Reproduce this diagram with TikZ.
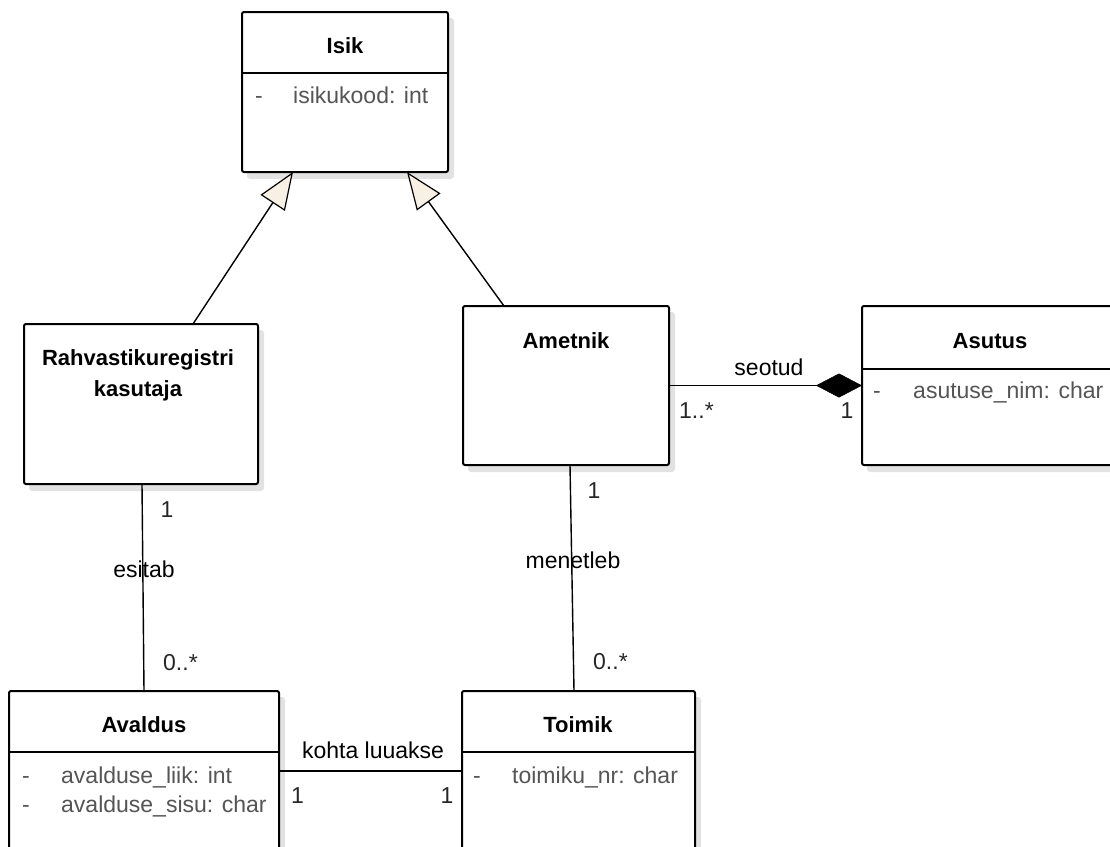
\documentclass[tikz,border=0pt]{standalone}
\usepackage{fontspec}
\setmainfont{Liberation Sans}
\usetikzlibrary{arrows.meta}
\definecolor{attrgray}{RGB}{85,85,85}
\definecolor{gencream}{RGB}{248,240,228}
\definecolor{shadowgray}{RGB}{226,226,226}
\tikzset{
  classbox/.style={draw=black, line width=2pt, fill=white, rounded corners=2pt,
    inner sep=0pt, outer sep=0pt, rectangle},
  boxshadow/.style={fill=shadowgray, rounded corners=3pt},
  classtitle/.style={font=\fontsize{22}{31}\selectfont\bfseries, anchor=base, inner sep=0pt, align=center},
  attrtext/.style={font=\fontsize{23}{27}\selectfont, text=attrgray, anchor=base west, inner sep=0pt},
  linklabel/.style={font=\fontsize{23}{27}\selectfont, text=black, anchor=base, inner sep=0pt},
  multlabel/.style={font=\fontsize{23}{27}\selectfont, text=black!85, inner sep=0pt},
  link/.style={draw=black, line width=1.4pt},
  generalization/.style={link, -{Triangle[length=37pt, width=29pt, fill=gencream, line width=1.2pt]}},
  composition/.style={link, -{Diamond[length=46pt, width=24pt, fill=black, line width=0.5pt]}},
  separator/.style={draw=black, line width=2pt},
}
\begin{document}
\begin{tikzpicture}[x=1pt, y=-1pt]
\useasboundingbox (0,0) rectangle (1110,846);
\clip (0,0) rectangle (1110,846);

% soft shadows behind the classes
\foreach \xa/\ya/\xb/\yb in {242/12/448/172, 24/324/258/484, 463/306/669/465,
    862/306/1118/465, 9/691/279/851, 462/691/695/851}
  \fill[boxshadow] (\xa+5,\ya+6) rectangle (\xb+6,\yb+7);

% classes
\node[classbox, minimum width=206pt, minimum height=160pt] (isik) at (345,92) {};
\node[classbox, minimum width=234pt, minimum height=160pt] (rahv) at (141,404) {};
\node[classbox, minimum width=206pt, minimum height=159pt] (ametnik) at (566,385.5) {};
\node[classbox, minimum width=256pt, minimum height=159pt] (asutus) at (990,385.5) {};
\node[classbox, minimum width=270pt, minimum height=160pt] (avaldus) at (144,771) {};
\node[classbox, minimum width=233pt, minimum height=160pt] (toimik) at (578.5,771) {};

% compartment separators
\draw[separator] (isik.west |- 0,73) -- (isik.east |- 0,73);
\draw[separator] (asutus.west |- 0,369) -- (asutus.east |- 0,369);
\draw[separator] (avaldus.west |- 0,752) -- (avaldus.east |- 0,752);
\draw[separator] (toimik.west |- 0,752) -- (toimik.east |- 0,752);

% class names
\node[classtitle] (isikname) at (345,53) {Isik};
\node[classtitle] (rahvname1) at (138,365) {Rahvastikuregistri};
\node[classtitle] (rahvname2) at (138,396) {kasutaja};
\node[classtitle] (ametnikname) at (566,348) {Ametnik};
\node[classtitle] (asutusname) at (990,348) {Asutus};
\node[classtitle] (avaldusname) at (144,732) {Avaldus};
\node[classtitle] (toimikname) at (578,732) {Toimik};

% attributes
\node[attrtext] (isikvis) at (255,103) {-};
\node[attrtext] (isikattr) at (293,103) {isikukood: int};
\node[attrtext] (asutusvis) at (873,398) {-};
\node[attrtext] (asutusattr) at (913,398) {asutuse\_nim: char};
\node[attrtext] (avaldusvis1) at (22,783) {-};
\node[attrtext] (avaldusattr1) at (61,783) {avalduse\_liik: int};
\node[attrtext] (avaldusvis2) at (22,812) {-};
\node[attrtext] (avaldusattr2) at (61,812) {avalduse\_sisu: char};
\node[attrtext] (toimikvis) at (473,783) {-};
\node[attrtext] (toimikattr) at (512,783) {toimiku\_nr: char};

% generalizations
\draw[generalization] ([xshift=52pt]rahv.north) -- ([xshift=-52pt]isik.south);
\draw[generalization] ([xshift=-62pt]ametnik.north) -- ([xshift=62pt]isik.south);

% composition
\draw[composition] (ametnik.east) -- (asutus.west);
\node[linklabel] (seotud) at (769,375) {seotud};
\node[multlabel, anchor=base west] (m1) at (679,418) {1..*};
\node[multlabel, anchor=base] (m2) at (847,418) {1};

% associations
\draw[link] ([xshift=1pt]rahv.south) -- (avaldus.north);
\node[linklabel] (esitab) at (144,577) {esitab};
\node[multlabel, anchor=base] (m3) at (167,517) {1};
\node[multlabel, anchor=base west] (m4) at (163,670) {0..*};

\draw[link] ([xshift=4pt]ametnik.south) -- ([xshift=-4.5pt]toimik.north);
\node[linklabel] (menetleb) at (573,568) {menetleb};
\node[multlabel, anchor=base] (m5) at (594,498) {1};
\node[multlabel, anchor=base west] (m6) at (593,669) {0..*};

\draw[link] (avaldus.east) -- (toimik.west);
\node[linklabel] (kohta) at (373,758) {kohta luuakse};
\node[multlabel, anchor=base west] (m7) at (291,803) {1};
\node[multlabel, anchor=base] (m8) at (447,803) {1};
\end{tikzpicture}
\end{document}
